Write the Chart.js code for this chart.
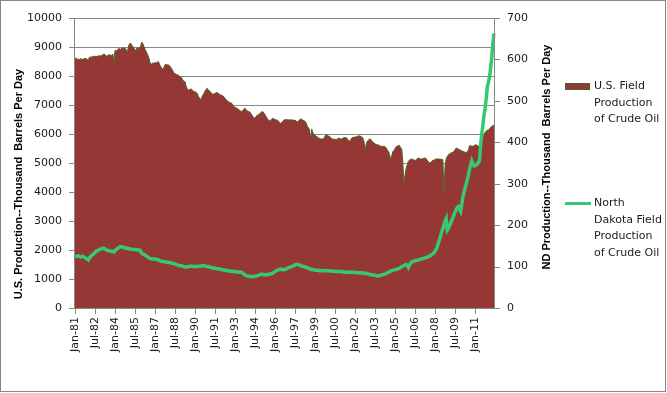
<!DOCTYPE html>
<html>
<head>
<meta charset="utf-8">
<script src="https://cdn.jsdelivr.net/npm/chart.js@4.4.0/dist/chart.umd.min.js"></script>
<style>
  body { margin: 0; background: #fff; }
  #wrap { position: relative; width: 667px; height: 393px; background: #fff; }
  .legend-text { position: absolute; left: 594px; font: 11px 'DejaVu Sans'; line-height: 16.5px; color: #1a1a1a; white-space: nowrap; }
  .swatch { position: absolute; box-sizing: border-box; }
</style>
</head>
<body>
<div id="wrap">
  <canvas id="myChart" width="667" height="393"></canvas>
  <div class="swatch" id="swatchUS" style="left:565px; top:83px; width:25px; height:7px;"></div>
  <div class="legend-text" id="legendUS" style="top:78px;"></div>
  <div class="swatch" id="swatchND" style="left:565px; top:202px; width:26px; height:3px;"></div>
  <div class="legend-text" id="legendND" style="top:195px;"></div>
</div>
<script>
// series names, split the way the legend wraps them
const usLabel = ["U.S. Field", "Production", "of Crude Oil"];
const ndLabel = ["North", "Dakota Field", "Production", "of Crude Oil"];
const leftTitle = "U.S. Production--Thousand  Barrels Per Day";
const rightTitle = "ND Production--Thousand  Barrels Per Day";

// labels shown on the date axis (every 18 months)
const xTickLabels = ["Jan-81", "Jul-82", "Jan-84", "Jul-85", "Jan-87", "Jul-88", "Jan-90", "Jul-91",
  "Jan-93", "Jul-94", "Jan-96", "Jul-97", "Jan-99", "Jul-00", "Jan-02", "Jul-03", "Jan-05",
  "Jul-06", "Jan-08", "Jul-09", "Jan-11"];

// monthly categories Jan-81 .. Jun-12
const monthNames = ["Jan", "Feb", "Mar", "Apr", "May", "Jun", "Jul", "Aug", "Sep", "Oct", "Nov", "Dec"];
const months = [];
for (let y = 1981; y <= 2012; y++) {
    for (let m = 0; m < 12; m++) {
        if (y === 2012 && m > 5) break;
        months.push(monthNames[m] + "-" + String(y).slice(2));
    }
}

// U.S. field production, thousand barrels per day (left axis)
const usProduction = [
    8600, 8620, 8570, 8590, 8560, 8600, 8580, 8570, 8600, 8590, 8610, 8560, // 1981
    8570, 8640, 8660, 8650, 8680, 8670, 8690, 8660, 8680, 8700, 8690, 8710, // 1982
    8700, 8740, 8760, 8740, 8680, 8700, 8720, 8740, 8700, 8720, 8760, 8450, // 1983
    8880, 8850, 8900, 8930, 8950, 8920, 8960, 8980, 8950, 8970, 8900, 8790, // 1984
    9000, 9110, 9130, 9080, 9000, 8990, 8850, 8920, 8970, 8960, 8980, 9000, // 1985
    9170, 9120, 9020, 8920, 8850, 8760, 8680, 8550, 8390, 8420, 8450, 8440, // 1986
    8460, 8450, 8470, 8500, 8410, 8330, 8280, 8215, 8300, 8390, 8400, 8380, // 1987
    8390, 8350, 8310, 8250, 8180, 8100, 8080, 8060, 8040, 8030, 8000, 7960, // 1988
    7940, 7860, 7820, 7800, 7650, 7560, 7520, 7530, 7550, 7540, 7500, 7460, // 1989
    7460, 7430, 7400, 7300, 7240, 7170, 7260, 7340, 7400, 7480, 7540, 7575, // 1990
    7520, 7480, 7450, 7400, 7370, 7380, 7400, 7420, 7430, 7400, 7370, 7345, // 1991
    7345, 7300, 7280, 7230, 7190, 7150, 7110, 7090, 7080, 7060, 7000, 6940, // 1992
    6920, 6900, 6880, 6850, 6820, 6790, 6770, 6820, 6860, 6885, 6830, 6800, // 1993
    6780, 6770, 6720, 6660, 6600, 6560, 6540, 6600, 6655, 6650, 6700, 6730, // 1994
    6760, 6770, 6720, 6660, 6600, 6530, 6490, 6450, 6480, 6510, 6540, 6520, // 1995
    6500, 6480, 6480, 6450, 6400, 6370, 6390, 6440, 6480, 6490, 6500, 6490, // 1996
    6490, 6480, 6500, 6490, 6470, 6480, 6470, 6450, 6400, 6450, 6490, 6520, // 1997
    6500, 6480, 6460, 6440, 6380, 6265, 6220, 6150, 5800, 6170, 6050, 5980, // 1998
    5960, 5920, 5900, 5870, 5850, 5830, 5830, 5830, 5850, 5930, 5980, 5950, // 1999
    5930, 5920, 5880, 5840, 5830, 5820, 5810, 5800, 5820, 5860, 5850, 5830, // 2000
    5830, 5850, 5880, 5870, 5880, 5840, 5780, 5750, 5800, 5860, 5885, 5880, // 2001
    5900, 5900, 5920, 5930, 5940, 5920, 5900, 5860, 5750, 5400, 5650, 5750, // 2002
    5780, 5830, 5820, 5770, 5720, 5690, 5660, 5640, 5630, 5620, 5600, 5575, // 2003
    5575, 5570, 5575, 5560, 5520, 5450, 5400, 5300, 5115, 5250, 5400, 5420, // 2004
    5500, 5560, 5580, 5610, 5600, 5520, 5480, 5000, 4250, 4600, 4830, 4950, // 2005
    5060, 5100, 5130, 5140, 5120, 5100, 5090, 5110, 5150, 5170, 5160, 5140, // 2006
    5140, 5150, 5170, 5170, 5150, 5090, 5050, 5000, 5020, 5060, 5090, 5100, // 2007
    5120, 5140, 5140, 5150, 5130, 5140, 5120, 5115, 3965, 4940, 5150, 5230, // 2008
    5280, 5320, 5340, 5360, 5370, 5400, 5460, 5520, 5500, 5480, 5460, 5440, // 2009
    5420, 5400, 5380, 5370, 5370, 5380, 5450, 5600, 5590, 5580, 5575, 5600, // 2010
    5620, 5630, 5600, 5575, 5600, 5640, 5690, 5800, 5980, 6050, 6100, 6130, // 2011
    6130, 6180, 6230, 6260, 6290, 6300                                      // 2012
];

// North Dakota field production, thousand barrels per day (right axis)
const ndProduction = [
    124, 125, 124, 126, 125, 123, 124, 125, 123, 122, 120, 118, // 1981
    116, 120, 124, 127, 129, 131, 134, 137, 138, 140, 141, 142, // 1982
    143, 144, 144, 142, 141, 139, 139, 138, 137, 137, 136, 135, // 1983
    139, 141, 143, 145, 147, 148, 148, 147, 146, 145, 144, 144, // 1984
    143, 143, 142, 142, 141, 141, 141, 141, 140, 140, 140, 138, // 1985
    132, 131, 129, 128, 126, 124, 122, 120, 119, 119, 118, 118, // 1986
    118, 117, 117, 116, 115, 113, 112, 112, 112, 111, 111, 110, // 1987
    110, 110, 109, 108, 108, 107, 106, 105, 104, 103, 102, 102, // 1988
    102, 101, 100, 99, 99, 99, 100, 101, 101, 101, 100, 100,    // 1989
    100, 100, 100, 101, 101, 101, 102, 102, 102, 101, 100, 100, // 1990
    100, 99, 98, 97, 97, 96, 96, 95, 95, 94, 94, 93,            // 1991
    93, 92, 92, 91, 91, 90, 90, 89, 89, 89, 88, 88,             // 1992
    88, 87, 87, 87, 86, 86, 86, 84, 82, 80, 78, 77,             // 1993
    77, 76, 76, 76, 76, 76, 76, 77, 78, 79, 80, 81,             // 1994
    82, 81, 80, 80, 80, 81, 81, 82, 82, 83, 84, 86,             // 1995
    88, 90, 91, 92, 93, 94, 93, 93, 92, 93, 94, 96,             // 1996
    97, 98, 99, 100, 101, 102, 104, 105, 105, 105, 104, 102,    // 1997
    101, 101, 100, 99, 98, 97, 96, 95, 94, 93, 93, 92,          // 1998
    92, 91, 91, 91, 90, 90, 90, 90, 90, 91, 90, 90,             // 1999
    90, 90, 89, 89, 89, 89, 89, 88, 88, 88, 88, 88,             // 2000
    88, 87, 87, 87, 86, 86, 86, 86, 86, 86, 86, 86,             // 2001
    86, 85, 85, 85, 85, 85, 85, 84, 83, 84, 84, 83,             // 2002
    82, 81, 80, 80, 80, 79, 79, 78, 77, 77, 78, 79,             // 2003
    80, 80, 81, 82, 84, 85, 86, 88, 89, 90, 91, 92,             // 2004
    93, 93, 94, 95, 96, 98, 100, 101, 102, 104, 105, 103,       // 2005
    98, 104, 109, 111, 112, 113, 114, 115, 115, 116, 117, 118,  // 2006
    119, 119, 120, 121, 122, 123, 124, 125, 127, 129, 131, 133, // 2007
    138, 142, 148, 158, 166, 175, 184, 192, 200, 210, 216, 188, // 2008
    192, 198, 205, 212, 218, 225, 232, 238, 243, 245, 238, 233, // 2009
    250, 268, 280, 290, 300, 310, 322, 335, 345, 355, 348, 343, // 2010
    344, 345, 348, 352, 356, 396, 420, 441, 465, 481, 505, 534, // 2011
    546, 558, 580, 605, 640, 663                                // 2012
];

const usColor = "#953735";
const usEdge = "#4F6228";
const ndColor = "#36c972";
const gridColor = "#868686";
const textColor = "#1a1a1a";
const tickFont = { family: "'DejaVu Sans'", size: 11 };
const clear = "rgba(0,0,0,0)";

// legend built as html so the labels can wrap like the original
document.getElementById("legendUS").innerHTML = usLabel.join("<br>");
document.getElementById("legendND").innerHTML = ndLabel.join("<br>");
document.getElementById("swatchUS").style.background = usColor;
document.getElementById("swatchUS").style.border = "1px solid " + usEdge;
document.getElementById("swatchND").style.background = ndColor;

// gridlines, axis lines, tick marks, frame and axis titles, all after the chart is drawn.
// gridlines go behind what is already there (destination-over) so the area hides them.
const axisPlugin = {
    id: "axisPlugin",
    afterDraw(chart) {
        const ctx = chart.ctx;
        const a = chart.chartArea;
        const { x, y, y2 } = chart.scales;
        const left = Math.round(a.left) - 1;
        const right = Math.round(a.right);
        const top = Math.round(a.top);
        const bottom = Math.round(a.bottom);

        ctx.save();
        ctx.fillStyle = gridColor;
        ctx.globalCompositeOperation = "destination-over";
        y.ticks.forEach((t) => {
            ctx.fillRect(left, Math.round(y.getPixelForValue(t.value)), right - left, 1);
        });
        ctx.restore();

        ctx.save();
        ctx.fillStyle = gridColor;
        // axis lines
        ctx.fillRect(left, top, 1, bottom - top + 1);
        ctx.fillRect(right, top, 1, bottom - top + 1);
        ctx.fillRect(left, bottom, right - left + 1, 1);
        // left and right tick marks
        y.ticks.forEach((t) => {
            ctx.fillRect(left - 5, Math.round(y.getPixelForValue(t.value)), 5, 1);
        });
        y2.ticks.forEach((t) => {
            ctx.fillRect(right + 1, Math.round(y2.getPixelForValue(t.value)), 5, 1);
        });
        // date tick marks at the labelled months
        xTickLabels.forEach((lab) => {
            ctx.fillRect(Math.round(x.getPixelForValue(months.indexOf(lab))), bottom + 1, 1, 5);
        });

        // outer frame
        ctx.strokeStyle = gridColor;
        ctx.lineWidth = 1;
        ctx.strokeRect(0.5, 0.5, 665, 391);

        // axis titles, both reading bottom to top
        ctx.font = "bold 11px 'Liberation Sans'";
        ctx.fillStyle = "#000";
        ctx.textAlign = "center";
        ctx.textBaseline = "middle";

        ctx.save();
        ctx.translate(19, a.bottom - 124);
        ctx.rotate(-Math.PI / 2);
        ctx.fillText(leftTitle, 0, 0);
        ctx.restore();

        ctx.save();
        ctx.translate(a.right + 53, a.top + 139);
        ctx.rotate(-Math.PI / 2);
        ctx.fillText(rightTitle, 0, 0);
        ctx.restore();

        ctx.restore();
    }
};

const data = {
    labels: months,
    datasets: [
        {
            label: ndLabel.join(" "),
            data: ndProduction,
            yAxisID: "y2",
            borderColor: ndColor,
            backgroundColor: ndColor,
            borderWidth: 3.5,
            fill: false,
            order: 0,
        },
        {
            label: usLabel.join(" "),
            data: usProduction,
            yAxisID: "y",
            borderColor: usEdge,
            backgroundColor: usColor,
            borderWidth: 1,
            fill: "origin",
            order: 1,
        },
    ],
};

const config = {
    type: "line",
    data,
    plugins: [axisPlugin],
    options: {
        responsive: false,
        animation: false,
        layout: { padding: { top: 18, right: 108, bottom: 0, left: 0 } },
        elements: { point: { radius: 0 }, line: { tension: 0 } },
        plugins: { legend: { display: false }, tooltip: { enabled: false } },
        scales: {
            x: {
                type: "category",
                offset: false,
                border: { display: false },
                grid: { drawOnChartArea: false, tickLength: 5, color: clear, tickColor: clear },
                ticks: {
                    autoSkip: false,
                    maxRotation: 90,
                    minRotation: 90,
                    padding: 4,
                    font: tickFont,
                    color: textColor,
                    callback: (v, i) => (xTickLabels.includes(months[i]) ? months[i] : ""),
                },
                afterFit: (s) => { s.height = 85; },
            },
            y: {
                position: "left",
                min: 0,
                max: 10000,
                border: { display: false },
                grid: { drawOnChartArea: false, tickLength: 5, color: clear, tickColor: clear },
                ticks: { stepSize: 1000, padding: 8, font: tickFont, color: textColor, callback: (v) => String(v) },
                afterFit: (s) => { s.width = 75; },
            },
            y2: {
                position: "right",
                min: 0,
                max: 700,
                border: { display: false },
                grid: { drawOnChartArea: false, tickLength: 5, color: clear, tickColor: clear },
                ticks: { stepSize: 100, padding: 8, font: tickFont, color: textColor, callback: (v) => String(v) },
                afterFit: (s) => { s.width = 65; },
            },
        },
    },
};

// draw the chart
var myChart = new Chart(document.getElementById("myChart"), config);
</script>
</body>
</html>
